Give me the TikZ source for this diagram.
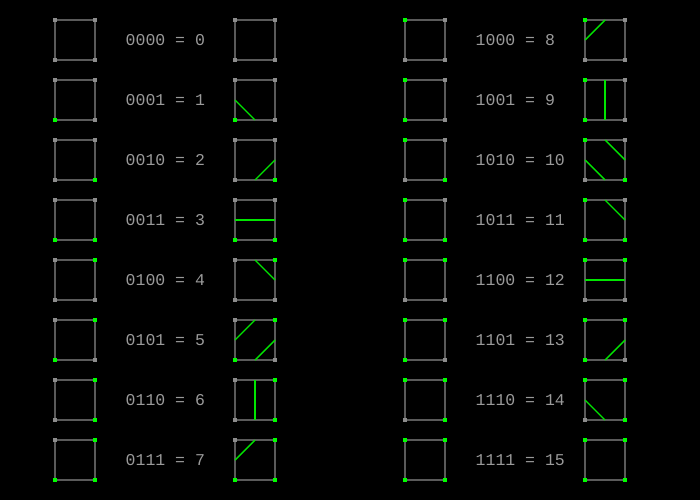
\documentclass[tikz,border=0pt]{standalone}
\usepackage{fontspec}
\setmonofont{Liberation Mono}
\definecolor{edgegray}{HTML}{5A5A5A}
\definecolor{dotgray}{HTML}{8C8C8C}
\definecolor{labelgray}{HTML}{9A9A9A}
\definecolor{ongreen}{HTML}{00FF00}
\definecolor{linegreen}{HTML}{00E600}
\tikzset{
  cellside/.style={draw=edgegray, line width=1.3pt},
  contour/.style={draw=linegreen, line width=1.4pt},
  caselabel/.style={text=labelgray, font=\ttfamily\fontsize{16.5}{16.5}\selectfont, anchor=base west, inner sep=0pt},
}
% one square cell with its four corner dots: \cell(x,y){tl}{tr}{br}{bl}
\def\cell(#1,#2)#3#4#5#6{
  \draw[cellside] (#1,#2) rectangle (#1+40,#2+40);
  \fill[#3] (#1-2,#2-2) rectangle (#1+2,#2+2);
  \fill[#4] (#1+38,#2-2) rectangle (#1+42,#2+2);
  \fill[#5] (#1+38,#2+38) rectangle (#1+42,#2+42);
  \fill[#6] (#1-2,#2+38) rectangle (#1+2,#2+42);
}

\begin{document}
\begin{tikzpicture}[x=1pt, y=-1pt]
  %%%%% START %%%%%
  \fill[black] (0,0) rectangle (700,500);
  \useasboundingbox (0,0) rectangle (700,500);

  \foreach \n/\bits in {0/0000,1/0001,2/0010,3/0011,4/0100,5/0101,6/0110,7/0111,
                        8/1000,9/1001,10/1010,11/1011,12/1100,13/1101,14/1110,15/1111} {
    \pgfmathtruncatemacro\col{int(\n/8)}
    \pgfmathtruncatemacro\row{mod(\n,8)}
    \pgfmathtruncatemacro\bl{mod(\n,2)}
    \pgfmathtruncatemacro\br{mod(int(\n/2),2)}
    \pgfmathtruncatemacro\tr{mod(int(\n/4),2)}
    \pgfmathtruncatemacro\tl{mod(int(\n/8),2)}
    \pgfmathsetmacro\cx{55+350*\col}
    \pgfmathsetmacro\cy{20+60*\row}
    \def\pick##1{\ifnum##1=1 ongreen\else dotgray\fi}
    \edef\ctl{\pick\tl}\edef\ctr{\pick\tr}\edef\cbr{\pick\br}\edef\cbl{\pick\bl}
    % input square and output square
    \cell(\cx,\cy){\ctl}{\ctr}{\cbr}{\cbl}
    \cell(\cx+180,\cy){\ctl}{\ctr}{\cbr}{\cbl}
    \node[caselabel] (lab\n) at (\cx+70.5,\cy+25.5) {\bits\ = \n};
  }

  % contour pieces in the output squares
  \foreach \n/\segs in {1/{L/B},2/{B/R},3/{L/R},4/{T/R},5/{L/T,B/R},6/{T/B},7/{L/T},
                        8/{L/T},9/{T/B},10/{T/R,L/B},11/{T/R},12/{L/R},13/{B/R},14/{L/B}} {
    \pgfmathsetmacro\ox{235+350*int(\n/8)}
    \pgfmathsetmacro\oy{20+60*mod(\n,8)}
    \coordinate (L) at (\ox,\oy+20);
    \coordinate (T) at (\ox+20,\oy);
    \coordinate (R) at (\ox+40,\oy+20);
    \coordinate (B) at (\ox+20,\oy+40);
    \foreach \a/\b in \segs {
      \draw[contour] (\a) -- (\b);
    }
  }
  %%%%% END %%%%%
\end{tikzpicture}
\end{document}
